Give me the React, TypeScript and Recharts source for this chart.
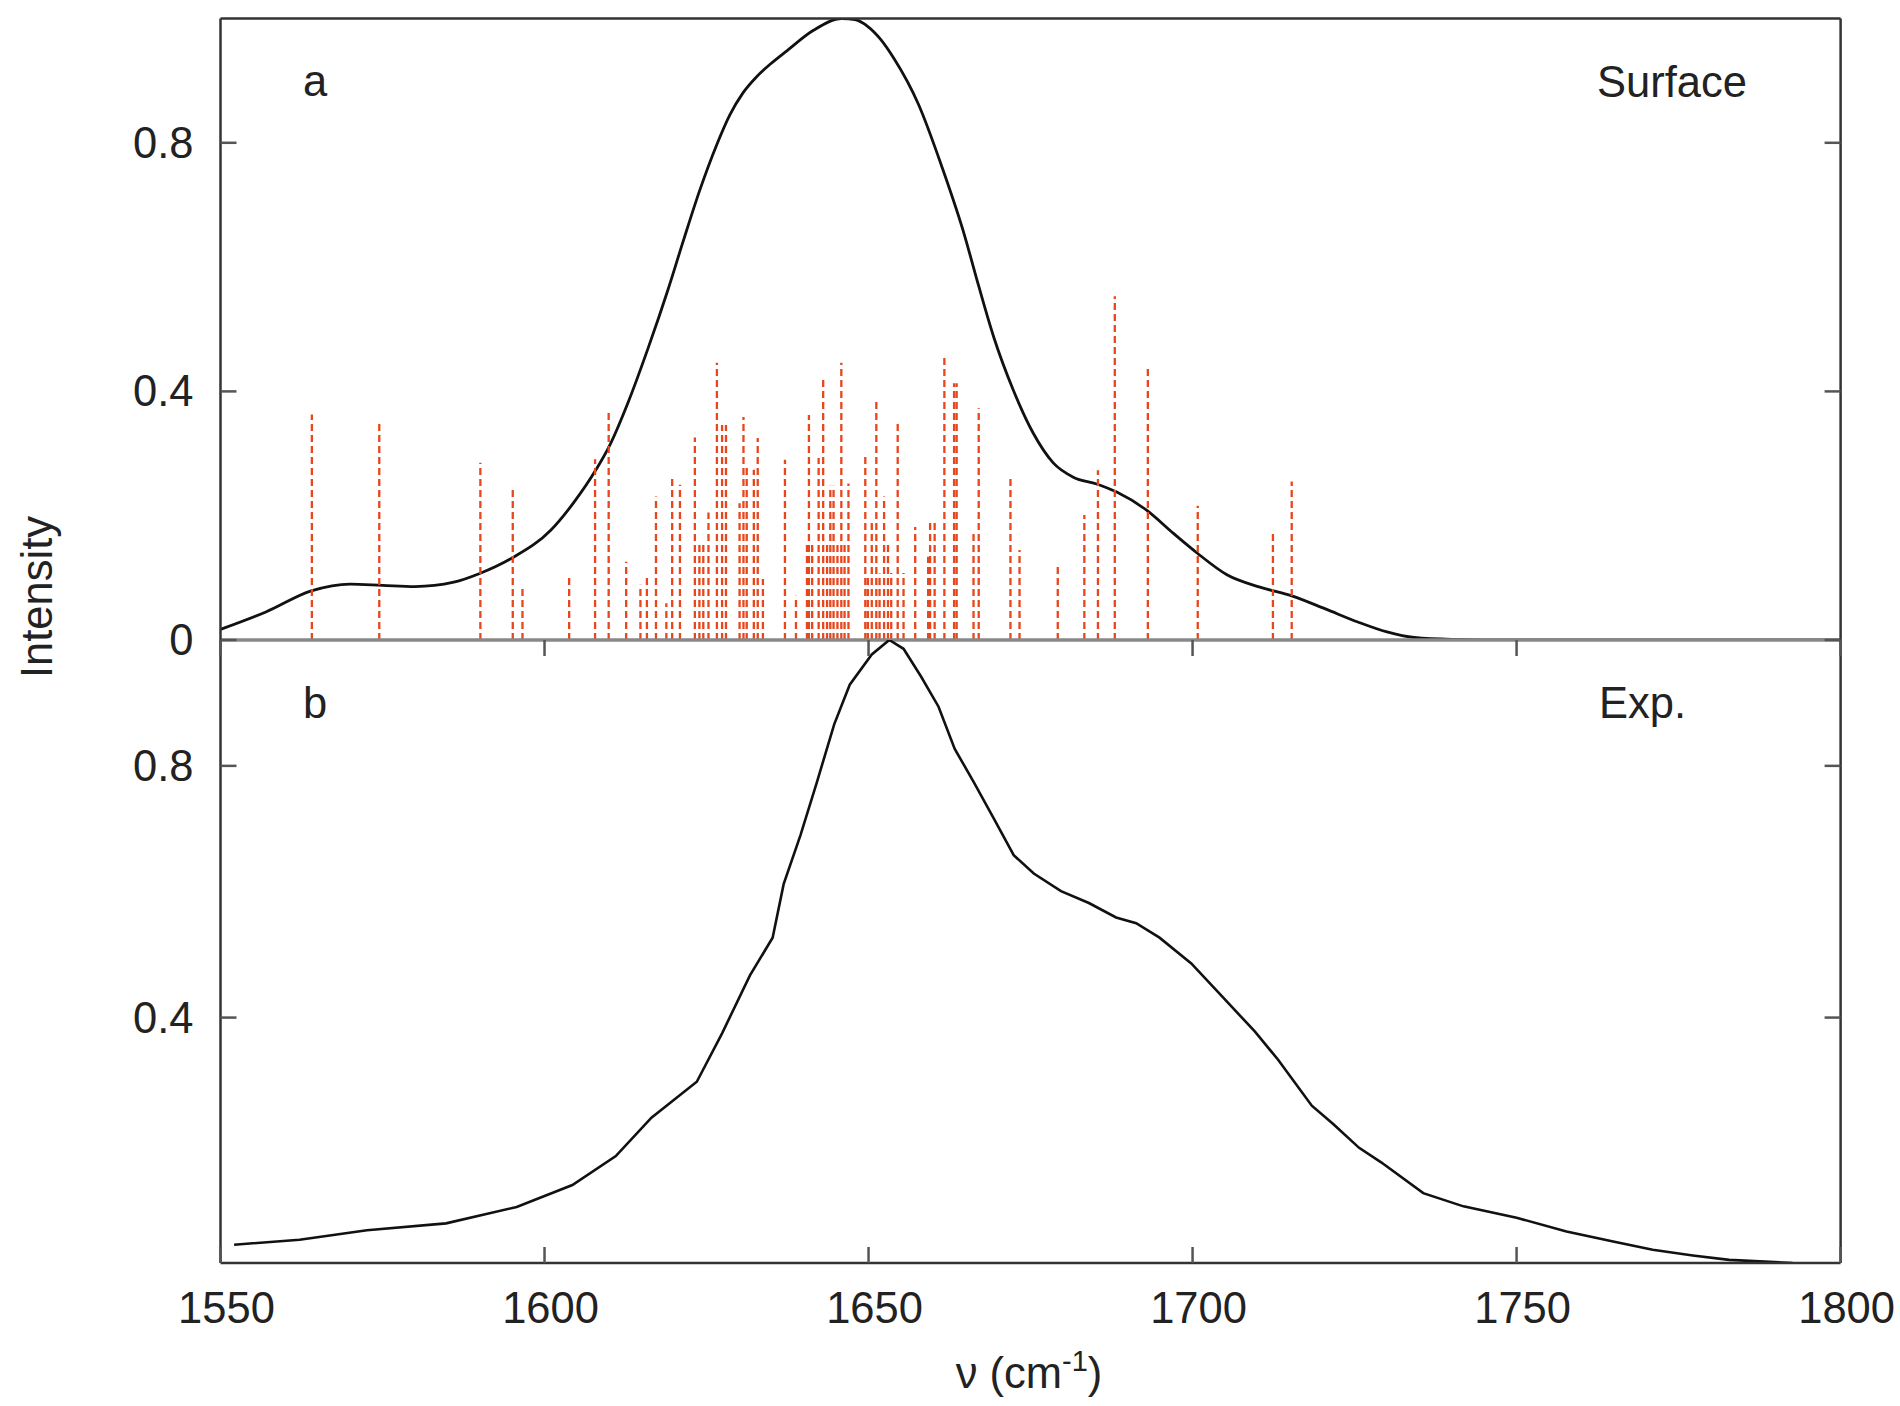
import React from 'react';
import { ComposedChart, Line, XAxis, YAxis } from 'recharts';

// ---- tick labels ----
const xTicks = [1550, 1600, 1650, 1700, 1750, 1800];
const yTicksTop = [0, 0.4, 0.8];
const yTicksBottom = [0.4, 0.8];

// ---- panel a: simulated surface spectrum ----
const surfaceX = [1550, 1557, 1564, 1570, 1575, 1580, 1586, 1590, 1595, 1601, 1604.5, 1608, 1610, 1613, 1616, 1619, 1621.5, 1624, 1626.5, 1628.6, 1630.6, 1632.7, 1635, 1637.4, 1641.5, 1645.9, 1647.9, 1649.9, 1651.9, 1653.9, 1657.7, 1661.3, 1664.9, 1666.5, 1669.3, 1672.3, 1675.4, 1678.5, 1681.6, 1685.2, 1688.3, 1692.9, 1697.0, 1700.7, 1705.3, 1710.4, 1715.3, 1720.5, 1725.5, 1730, 1734.2, 1740, 1750, 1800];
const surfaceY = [0.017, 0.045, 0.079, 0.09, 0.088, 0.086, 0.093, 0.107, 0.132, 0.177, 0.221, 0.275, 0.312, 0.385, 0.47, 0.562, 0.645, 0.725, 0.795, 0.845, 0.88, 0.906, 0.928, 0.948, 0.981, 1.0, 0.998, 0.987, 0.966, 0.936, 0.862, 0.762, 0.648, 0.588, 0.488, 0.403, 0.333, 0.285, 0.262, 0.251, 0.238, 0.209, 0.172, 0.14, 0.105, 0.085, 0.071, 0.05, 0.029, 0.013, 0.004, 0.001, 0, 0];

// ---- panel a: stick spectrum (frequencies, intensities) ----
const stickX = [1564.1, 1574.5, 1590.1, 1595.1, 1596.6, 1603.8, 1607.8, 1609.9, 1612.6, 1614.8, 1615.8, 1617.2, 1618.8, 1619.7, 1620.9, 1623.2, 1623.9, 1624.5, 1625.3, 1626.6, 1627.4, 1628.0, 1630.1, 1630.7, 1631.2, 1632.3, 1632.9, 1633.7, 1637.1, 1638.8, 1640.5, 1640.8, 1641.3, 1642.3, 1643.0, 1643.6, 1644.1, 1644.6, 1645.2, 1645.8, 1646.3, 1646.9, 1649.5, 1649.9, 1650.5, 1651.2, 1651.7, 1652.4, 1653.0, 1653.5, 1654.5, 1655.4, 1657.2, 1659.2, 1659.5, 1660.2, 1661.7, 1663.2, 1663.6, 1666.2, 1667.0, 1671.9, 1673.3, 1679.2, 1683.3, 1685.4, 1688.0, 1693.1, 1700.8, 1712.4, 1715.3];
const stickH = [0.363, 0.35, 0.285, 0.243, 0.085, 0.105, 0.291, 0.366, 0.126, 0.089, 0.105, 0.231, 0.059, 0.264, 0.25, 0.326, 0.156, 0.156, 0.205, 0.446, 0.346, 0.346, 0.22, 0.359, 0.279, 0.274, 0.325, 0.098, 0.29, 0.071, 0.156, 0.362, 0.156, 0.293, 0.419, 0.156, 0.248, 0.248, 0.156, 0.446, 0.156, 0.252, 0.298, 0.102, 0.19, 0.386, 0.107, 0.231, 0.156, 0.108, 0.349, 0.108, 0.182, 0.134, 0.19, 0.193, 0.457, 0.413, 0.413, 0.177, 0.373, 0.263, 0.145, 0.123, 0.201, 0.273, 0.553, 0.44, 0.216, 0.176, 0.255];

// ---- panel b: experimental spectrum ----
const expX = [1552.1, 1562.2, 1572.6, 1584.8, 1595.7, 1604.3, 1611.0, 1616.5, 1623.5, 1627.4, 1631.7, 1635.2, 1636.9, 1639.5, 1642.0, 1644.7, 1647.1, 1650.5, 1653.2, 1655.4, 1658.1, 1660.8, 1663.3, 1666.3, 1669.4, 1672.4, 1675.5, 1679.7, 1684.0, 1688.2, 1691.3, 1694.9, 1699.8, 1704.7, 1709.6, 1713.2, 1718.4, 1721.7, 1725.7, 1729.1, 1735.6, 1741.8, 1750.0, 1757.7, 1764.9, 1771.0, 1777.2, 1782.8, 1792.6];
const expY = [0.039, 0.047, 0.062, 0.073, 0.099, 0.134, 0.18, 0.241, 0.298, 0.375, 0.467, 0.527, 0.612, 0.69, 0.773, 0.866, 0.929, 0.977, 1.0, 0.986, 0.942, 0.894, 0.827, 0.773, 0.715, 0.658, 0.629, 0.601, 0.582, 0.559, 0.55, 0.527, 0.486, 0.432, 0.378, 0.333, 0.26, 0.231, 0.193, 0.17, 0.121, 0.1, 0.082, 0.06, 0.044, 0.031, 0.022, 0.015, 0.01];

const surfaceData = surfaceX.map((x, i) => ({ x, y: surfaceY[i] }));
const stickData = stickX.flatMap((x, i) => [
  { x, y: 0 },
  { x, y: stickH[i] },
  { x, y: null as number | null },
]);
const expData = expX.map((x, i) => ({ x, y: expY[i] }));

const W = 1900;
const H = 1406;
const LEFT = 220.5;
const RIGHT = 59.4;
const MID = 640;
const TOP = 18.5;
const BOTTOM = 1263;
const AX = 1; // axis thickness reserved (width/height)

const FONT = '"Liberation Sans", Arial, Helvetica, sans-serif';
const FS = 43.5;
const TICK = 16;
const BORDER = '#333';
const TICKCOL = '#555';

const LeftTick = (props: any) => {
  const { x, y, payload } = props;
  return (
    <g>
      <line x1={x} y1={y} x2={x + TICK} y2={y} stroke={TICKCOL} strokeWidth={2.5} />
      <text x={x - 27} y={y + 15} textAnchor="end" fontFamily={FONT} fontSize={FS} fill="#222">
        {String(payload.value)}
      </text>
    </g>
  );
};

const RightTick = (props: any) => {
  const { x, y } = props;
  return <line x1={x} y1={y} x2={x - TICK} y2={y} stroke={TICKCOL} strokeWidth={2.5} />;
};

const BottomTick = (props: any) => {
  const { x, y, payload } = props;
  return (
    <g>
      <line x1={x} y1={y} x2={x} y2={y - TICK} stroke={TICKCOL} strokeWidth={2.5} />
      <text x={x + 6} y={y + 60} textAnchor="middle" fontFamily={FONT} fontSize={FS} fill="#222">
        {String(payload.value)}
      </text>
    </g>
  );
};

const TopTick = (props: any) => {
  const { x, y } = props;
  return <line x1={x} y1={y} x2={x} y2={y + TICK} stroke={TICKCOL} strokeWidth={2.5} />;
};

const NoTick = () => <g />;

export default function App() {
  return (
    <div style={{ position: 'absolute', left: 0, top: 0, width: W, height: H, background: '#fff' }}>
      {/* Panel a */}
      <div style={{ position: 'absolute', left: 0, top: 0 }}>
        <ComposedChart
          width={W}
          height={H}
          margin={{ top: TOP - AX, right: RIGHT - AX, bottom: H - MID - AX, left: LEFT - AX }}
        >
          <XAxis
            type="number"
            dataKey="x"
            domain={[1550, 1800]}
            ticks={xTicks}
            allowDataOverflow
            height={AX}
            tickSize={0}
            tickMargin={0}
            tick={<NoTick />}
            tickLine={false}
            axisLine={{ stroke: '#888', strokeWidth: 3.5 }}
          />
          <XAxis
            xAxisId="top"
            orientation="top"
            type="number"
            dataKey="x"
            domain={[1550, 1800]}
            ticks={xTicks}
            allowDataOverflow
            height={AX}
            tickSize={0}
            tickMargin={0}
            tick={<NoTick />}
            tickLine={false}
            axisLine={{ stroke: BORDER, strokeWidth: 2.5 }}
          />
          <YAxis
            type="number"
            domain={[0, 1]}
            ticks={yTicksTop}
            allowDataOverflow
            width={AX}
            interval={0}
            tickSize={0}
            tickMargin={0}
            tickLine={false}
            tick={<LeftTick />}
            axisLine={{ stroke: BORDER, strokeWidth: 2.5 }}
          />
          <YAxis
            yAxisId="right"
            orientation="right"
            type="number"
            domain={[0, 1]}
            ticks={yTicksTop}
            allowDataOverflow
            width={AX}
            interval={0}
            tickSize={0}
            tickMargin={0}
            tickLine={false}
            tick={<RightTick />}
            axisLine={{ stroke: BORDER, strokeWidth: 2.5 }}
          />
          <Line
            data={surfaceData}
            dataKey="y"
            type="monotone"
            stroke="#111"
            strokeWidth={2.8}
            dot={false}
            activeDot={false}
            isAnimationActive={false}
          />
          <Line
            data={stickData}
            dataKey="y"
            type="linear"
            stroke="#e8461c"
            strokeWidth={2.3}
            strokeDasharray="7 4"
            dot={false}
            activeDot={false}
            connectNulls={false}
            isAnimationActive={false}
          />
        </ComposedChart>
      </div>

      {/* Panel b */}
      <div style={{ position: 'absolute', left: 0, top: 0 }}>
        <ComposedChart
          width={W}
          height={H}
          margin={{ top: MID - AX, right: RIGHT - AX, bottom: H - BOTTOM - AX, left: LEFT - AX }}
        >
          <XAxis
            type="number"
            dataKey="x"
            domain={[1550, 1800]}
            ticks={xTicks}
            allowDataOverflow
            height={AX}
            interval={0}
            tickSize={0}
            tickMargin={0}
            tickLine={false}
            tick={<BottomTick />}
            axisLine={{ stroke: BORDER, strokeWidth: 2.5 }}
          />
          <XAxis
            xAxisId="top"
            orientation="top"
            type="number"
            dataKey="x"
            domain={[1550, 1800]}
            ticks={xTicks}
            allowDataOverflow
            height={AX}
            interval={0}
            tickSize={0}
            tickMargin={0}
            tickLine={false}
            tick={<TopTick />}
            axisLine={false}
          />
          <YAxis
            type="number"
            domain={[0.01, 1]}
            ticks={yTicksBottom}
            allowDataOverflow
            width={AX}
            interval={0}
            tickSize={0}
            tickMargin={0}
            tickLine={false}
            tick={<LeftTick />}
            axisLine={{ stroke: BORDER, strokeWidth: 2.5 }}
          />
          <YAxis
            yAxisId="right"
            orientation="right"
            type="number"
            domain={[0.01, 1]}
            ticks={yTicksBottom}
            allowDataOverflow
            width={AX}
            interval={0}
            tickSize={0}
            tickMargin={0}
            tickLine={false}
            tick={<RightTick />}
            axisLine={{ stroke: BORDER, strokeWidth: 2.5 }}
          />
          <Line
            data={expData}
            dataKey="y"
            type="linear"
            stroke="#111"
            strokeWidth={2.6}
            dot={false}
            activeDot={false}
            isAnimationActive={false}
          />
        </ComposedChart>
      </div>

      {/* Text annotations */}
      <svg
        width={W}
        height={H}
        style={{ position: 'absolute', left: 0, top: 0, pointerEvents: 'none' }}
      >
        <g fontFamily={FONT} fontSize={FS} fill="#222">
          <text x={303} y={96}>a</text>
          <text x={1597} y={97}>Surface</text>
          <text x={303} y={718}>b</text>
          <text x={1599} y={718}>Exp.</text>
          <text x={52} y={597} textAnchor="middle" transform="rotate(-90 52 597)">Intensity</text>
          <text x={1029} y={1388} textAnchor="middle">
            <tspan>ν (cm</tspan>
            <tspan dy={-17} fontSize={29}>-1</tspan>
            <tspan dy={17}>)</tspan>
          </text>
        </g>
      </svg>
    </div>
  );
}
